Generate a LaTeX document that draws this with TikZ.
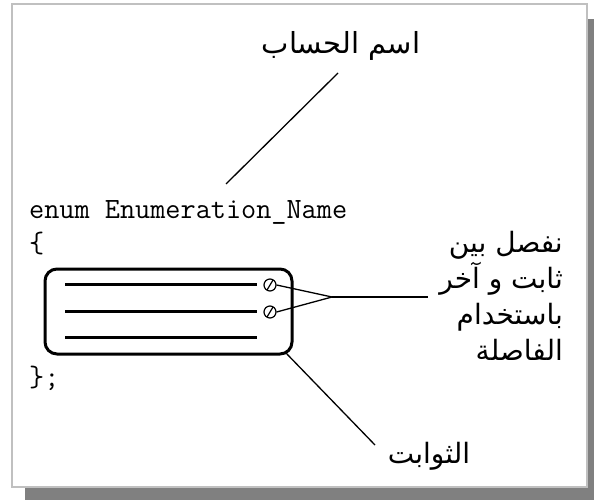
\documentclass[tikz,border=0pt]{standalone}
\usepackage{fontspec}
\usetikzlibrary{calc}
\newfontfamily\arabicfont[Script=Arabic]{DejaVu Sans}
\TeXXeTstate=1
\begin{document}
\begin{tikzpicture}[x=1pt,y=-1pt,
  artext/.style={inner sep=0pt,font=\arabicfont\fontsize{28}{36}\selectfont},
  code/.style={inner sep=0pt,anchor=base west,font=\ttfamily\fontsize{29.4}{30}\selectfont},
  thin/.style={line width=1.3pt,black},
  thick/.style={line width=3pt,black},
  comma/.style={circle,draw,line width=1.2pt,minimum size=12pt,inner sep=0pt}
]
\useasboundingbox (0,0) rectangle (594,500);
% frame with shadow
\fill[fill={rgb,255:red,128;green,128;blue,128}] (25,19) rectangle (594,500);
\draw[fill=white,draw={rgb,255:red,192;green,192;blue,192},line width=2pt] (12,4) rectangle (587,487);
% code text
\node[code] (enum) at (29,218) {enum Enumeration\_Name};
\node[code] (open) at (29,252) {\{};
\node[code] (close) at (29,386) {\};};
% rounded box
\node[draw,thick,rounded corners=12pt,minimum width=247pt,minimum height=85pt,inner sep=0pt] (box) at (168.5,311.5) {};
\draw[thick] (65,284) -- (257,284);
\draw[thick] (65,311) -- (257,311);
\draw[thick] (65,337) -- (257,337);
\node[comma] (c1) at (270,285) {};
\node[comma] (c2) at (270,312) {};
\draw[line width=1.2pt] ($(c1)+(-3,5)$) -- ($(c1)+(3,-5)$);
\draw[line width=1.2pt] ($(c2)+(-3,5)$) -- ($(c2)+(3,-5)$);
% labels
\node[artext,font=\arabicfont\fontsize{29}{36}\selectfont] (title) at (341,46) {\beginR اسم الحساب\endR};
\coordinate (t1) at (338,73);
\coordinate (t2) at (226,184);
\draw[thin] (t1) -- (t2);
\node[artext,align=right,anchor=north east] (sep) at (563,231) {\beginR نفصل بين\endR\\\beginR ثابت و آخر\endR\\\beginR باستخدام\endR\\\beginR الفاصلة\endR};
\coordinate (m) at (332,297);
\coordinate (mend) at (428,297);
\draw[thin] (c1.east) -- (m);
\draw[thin] (c2.east) -- (m);
\draw[thin] (m) -- (mend);
\node[artext] (consts) at (429,456) {\beginR الثوابت\endR};
\coordinate (b1) at (285,352);
\coordinate (b2) at (375,445);
\draw[thin] (b1) -- (b2);
\end{tikzpicture}
\end{document}
